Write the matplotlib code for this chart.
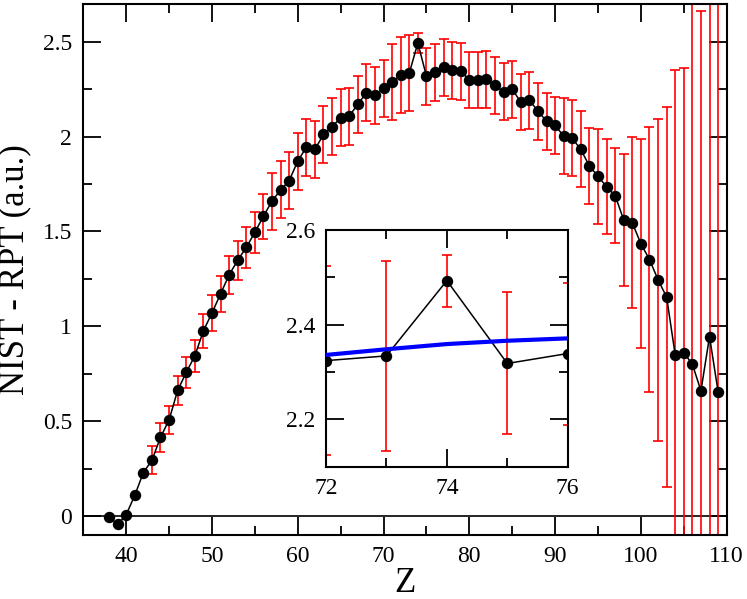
import matplotlib
matplotlib.use("Agg")
import matplotlib.pyplot as plt
from matplotlib.ticker import MultipleLocator
import numpy as np

# ---- data ----
Z = list(range(38, 110))
diff = [-0.005, -0.044, 0.007, 0.109, 0.229, 0.294, 0.414, 0.507, 0.662, 0.757,
        0.844, 0.976, 1.070, 1.171, 1.271, 1.348, 1.416, 1.495, 1.580, 1.660,
        1.719, 1.768, 1.870, 1.944, 1.932, 2.011, 2.052, 2.099, 2.108, 2.170,
        2.231, 2.217, 2.254, 2.287, 2.324, 2.334, 2.493, 2.318, 2.339, 2.364,
        2.349, 2.345, 2.298, 2.298, 2.302, 2.270, 2.235, 2.249, 2.182, 2.192,
        2.134, 2.081, 2.059, 2.002, 1.990, 1.932, 1.844, 1.791, 1.735, 1.689,
        1.560, 1.545, 1.435, 1.352, 1.245, 1.154, 0.849, 0.861, 0.800, 0.660,
        0.946, 0.655]
err = [0, 0, 0, 0, 0, 0.075, 0.075, 0.075, 0.078, 0.080,
       0.084, 0.088, 0.095, 0.095, 0.100, 0.104, 0.107, 0.107, 0.118, 0.15,
       0.15, 0.15, 0.15, 0.15, 0.15, 0.15, 0.15, 0.15, 0.15, 0.15,
       0.15, 0.15, 0.15, 0.20, 0.20, 0.20, 0.055, 0.15, 0.15, 0.15,
       0.15, 0.15, 0.15, 0.15, 0.15, 0.15, 0.15, 0.15, 0.15, 0.15,
       0.15, 0.15, 0.15, 0.20, 0.20, 0.20, 0.20, 0.25, 0.25, 0.25,
       0.35, 0.45, 0.55, 0.70, 0.85, 1.00, 1.50, 1.50, 2.50, 2.00,
       2.50, 3.00]
fit_Z = [72, 73, 74, 75, 76]
fit_val = [2.336, 2.348, 2.359, 2.366, 2.371]

x_ticks = [40, 50, 60, 70, 80, 90, 100, 110]
y_ticks = [0, 0.5, 1, 1.5, 2, 2.5]
y_tick_labels = ["0", "0.5", "1", "1.5", "2", "2.5"]
inset_x_ticks = [72, 74, 76]
inset_y_ticks = [2.2, 2.4, 2.6]

plt.rcParams['font.family'] = ['Liberation Serif', 'DejaVu Serif']
plt.rcParams['mathtext.fontset'] = 'stix'

fig = plt.figure(figsize=(7.47, 5.99), dpi=100)
ax = fig.add_axes([0.1115, 0.1068, 0.8613, 0.887])

def style(a, fs):
    for s in a.spines.values():
        s.set_linewidth(1.5)
    a.tick_params(which='both', direction='in', top=True, right=True,
                  labelsize=fs, width=1.3, pad=8)
    a.tick_params(which='major', length=13)
    a.tick_params(which='minor', length=6.5)

ax.axhline(0, color='black', lw=1.2, zorder=1)
ax.errorbar(Z, diff, yerr=err, fmt='none', ecolor='#ff0000', elinewidth=1.2,
            capsize=3.5, capthick=1.2, zorder=2)
ax.plot(Z, diff, '-o', color='black', lw=1.1, ms=7.2, zorder=3)
ax.set_xlim(35, 110)
ax.set_ylim(-0.1, 2.7)
ax.set_xticks(x_ticks)
ax.xaxis.set_minor_locator(MultipleLocator(5))
ax.set_yticks(y_ticks)
ax.set_yticklabels(y_tick_labels)
ax.yaxis.set_minor_locator(MultipleLocator(0.25))
style(ax, 17)
ax.set_xlabel('Z', fontsize=25, labelpad=0)
ax.set_ylabel('NIST - RPT (a.u.)', fontsize=25, labelpad=8)

ins = fig.add_axes([0.4364, 0.2209, 0.3236, 0.3952])
ins.errorbar(Z, diff, yerr=err, fmt='none', ecolor='#ff0000', elinewidth=1.2,
             capsize=3.5, capthick=1.2, zorder=2)
ins.plot(Z, diff, '-o', color='black', lw=1.1, ms=7.2, zorder=3)
ins.plot(fit_Z, fit_val, '-', color='#0000ff', lw=3, zorder=4)
ins.set_xlim(72, 76)
ins.set_ylim(2.1, 2.6)
ins.set_xticks(inset_x_ticks)
ins.xaxis.set_minor_locator(MultipleLocator(1))
ins.set_yticks(inset_y_ticks)
ins.set_yticklabels(["2.2", "2.4", "2.6"])
ins.yaxis.set_minor_locator(MultipleLocator(0.1))
style(ins, 17)

fig.savefig('out.png', dpi=100)
